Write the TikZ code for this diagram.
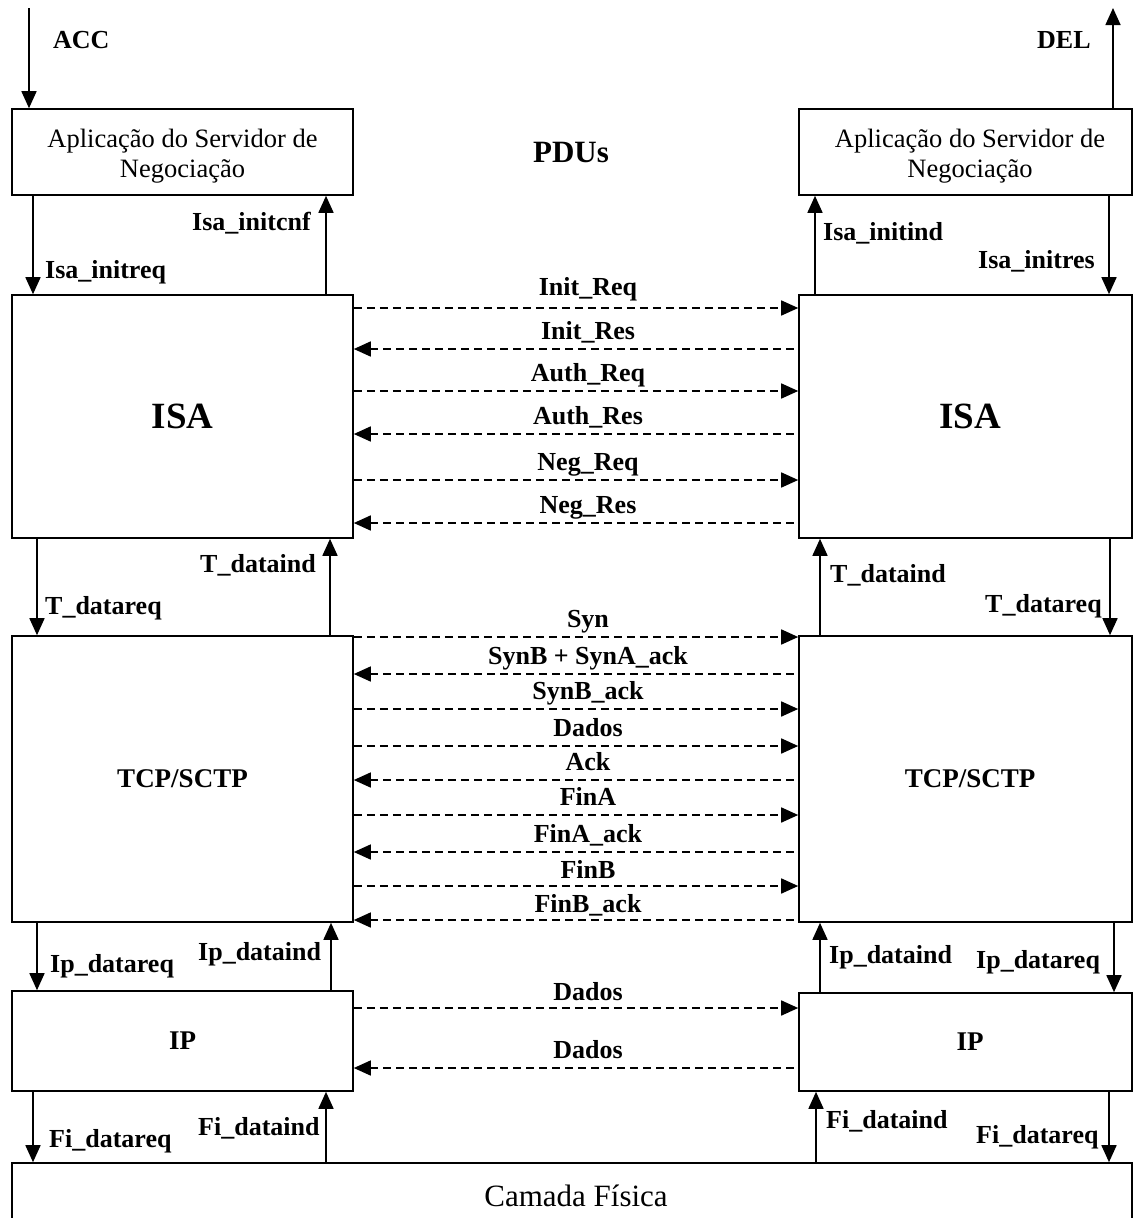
\documentclass[tikz,border=0pt]{standalone}
\usepackage{fontspec}
\setmainfont{Liberation Serif}
\usetikzlibrary{arrows.meta}

\begin{document}
\begin{tikzpicture}[x=1pt,y=-1pt,
  box/.style={draw, line width=1.6pt, inner sep=0pt},
  apptext/.style={font=\fontsize{26.5}{30}\selectfont, align=center, inner sep=0pt},
  bigtext/.style={font=\fontsize{37}{40}\selectfont\bfseries, inner sep=0pt},
  midtext/.style={font=\fontsize{27}{30}\selectfont\bfseries, inner sep=0pt},
  tip/.style={-{Triangle[length=17pt,width=15pt]}},
  arr/.style={line width=1.6pt, tip},
  toR/.style={line width=1.6pt, dash pattern=on 8pt off 5pt, -{Triangle[length=17pt,width=15pt]}},
  toL/.style={line width=1.6pt, dash pattern=on 8pt off 5pt, {Triangle[length=17pt,width=15pt]}-},
  lbl/.style={font=\fontsize{26}{30}\selectfont\bfseries, inner sep=0pt, anchor=base west},
  msg/.style={font=\fontsize{26}{30}\selectfont\bfseries, inner sep=0pt, pos=0.527, anchor=base, yshift=10pt}
]
\useasboundingbox (0,0) rectangle (1134,1218);

% protocol stacks, left and right
\node[box, minimum width=341pt, minimum height=86pt,
      label={[apptext, yshift=-4pt]center:Aplicação do Servidor de\\Negociação}] (appL) at (182.5,152) {};
\node[box, minimum width=333pt, minimum height=86pt,
      label={[apptext, xshift=4.5pt, yshift=-4pt]center:Aplicação do Servidor de\\Negociação}] (appR) at (965.5,152) {};
\node[box, minimum width=341pt, minimum height=243pt,
      label={[bigtext]center:ISA}] (isaL) at (182.5,416.5) {};
\node[box, minimum width=333pt, minimum height=243pt,
      label={[bigtext, xshift=4.5pt]center:ISA}] (isaR) at (965.5,416.5) {};
\node[box, minimum width=341pt, minimum height=286pt,
      label={[midtext]center:TCP/SCTP}] (tcpL) at (182.5,779) {};
\node[box, minimum width=333pt, minimum height=286pt,
      label={[midtext, xshift=4.5pt]center:TCP/SCTP}] (tcpR) at (965.5,779) {};
\node[box, minimum width=341pt, minimum height=100pt,
      label={[midtext]center:IP}] (ipL) at (182.5,1041) {};
\node[box, minimum width=333pt, minimum height=98pt,
      label={[midtext, xshift=4.5pt]center:IP}] (ipR) at (965.5,1042) {};
\node[box, minimum width=1120pt, minimum height=67pt,
      label={[font=\fontsize{31}{34}\selectfont, inner sep=0pt, xshift=4pt, yshift=1pt]center:Camada Física}] (phys) at (572,1196.5) {};

\node[font=\fontsize{31}{34}\selectfont\bfseries, inner sep=0pt] (pdus) at (571,152) {PDUs};

% service primitives, left side
\coordinate (accIn) at (29,8);
\draw[arr] (accIn) -- (appL.north -| 29,0);
\draw[arr] (appL.south -| 33,0) -- (isaL.north -| 33,0);
\draw[arr] (isaL.north -| 326,0) -- (appL.south -| 326,0);
\draw[arr] (isaL.south -| 37,0) -- (tcpL.north -| 37,0);
\draw[arr] (tcpL.north -| 330,0) -- (isaL.south -| 330,0);
\draw[arr] (tcpL.south -| 37,0) -- (ipL.north -| 37,0);
\draw[arr] (ipL.north -| 331,0) -- (tcpL.south -| 331,0);
\draw[arr] (ipL.south -| 33,0) -- (phys.north -| 33,0);
\draw[arr] (phys.north -| 326,0) -- (ipL.south -| 326,0);

\node[lbl] (accL) at (53,48) {ACC};
\node[lbl] at (192,230) {Isa\_initcnf};
\node[lbl] at (45,278) {Isa\_initreq};
\node[lbl] at (200,572) {T\_dataind};
\node[lbl] at (45,614) {T\_datareq};
\node[lbl] at (198,960) {Ip\_dataind};
\node[lbl] at (50,972) {Ip\_datareq};
\node[lbl] at (198,1135) {Fi\_dataind};
\node[lbl] at (49,1147) {Fi\_datareq};

% service primitives, right side
\coordinate (delOut) at (1113,8);
\draw[arr] (appR.north -| 1113,0) -- (delOut);
\draw[arr] (isaR.north -| 815,0) -- (appR.south -| 815,0);
\draw[arr] (appR.south -| 1109,0) -- (isaR.north -| 1109,0);
\draw[arr] (tcpR.north -| 820,0) -- (isaR.south -| 820,0);
\draw[arr] (isaR.south -| 1110,0) -- (tcpR.north -| 1110,0);
\draw[arr] (ipR.north -| 820,0) -- (tcpR.south -| 820,0);
\draw[arr] (tcpR.south -| 1114,0) -- (ipR.north -| 1114,0);
\draw[arr] (phys.north -| 816,0) -- (ipR.south -| 816,0);
\draw[arr] (ipR.south -| 1109,0) -- (phys.north -| 1109,0);

\node[lbl] (delL) at (1037,48) {DEL};
\node[lbl] at (823,240) {Isa\_initind};
\node[lbl] at (978,268) {Isa\_initres};
\node[lbl] at (830,582) {T\_dataind};
\node[lbl] at (985,612) {T\_datareq};
\node[lbl] at (829,963) {Ip\_dataind};
\node[lbl] at (976,968) {Ip\_datareq};
\node[lbl] at (826,1128) {Fi\_dataind};
\node[lbl] at (976,1143) {Fi\_datareq};

% ISA PDUs
\draw[toR] (isaL.east |- 0,308) -- (isaR.west |- 0,308) node[msg, yshift=3pt] {Init\_Req};
\draw[toL] (isaL.east |- 0,349) -- (isaR.west |- 0,349) node[msg] {Init\_Res};
\draw[toR] (isaL.east |- 0,391) -- (isaR.west |- 0,391) node[msg] {Auth\_Req};
\draw[toL] (isaL.east |- 0,434) -- (isaR.west |- 0,434) node[msg] {Auth\_Res};
\draw[toR] (isaL.east |- 0,480) -- (isaR.west |- 0,480) node[msg] {Neg\_Req};
\draw[toL] (isaL.east |- 0,523) -- (isaR.west |- 0,523) node[msg] {Neg\_Res};

% TCP/SCTP segments
\draw[toR] (tcpL.east |- 0,637) -- (tcpR.west |- 0,637) node[msg] {Syn};
\draw[toL] (tcpL.east |- 0,674) -- (tcpR.west |- 0,674) node[msg] {SynB + SynA\_ack};
\draw[toR] (tcpL.east |- 0,709) -- (tcpR.west |- 0,709) node[msg] {SynB\_ack};
\draw[toR] (tcpL.east |- 0,746) -- (tcpR.west |- 0,746) node[msg] {Dados};
\draw[toL] (tcpL.east |- 0,780) -- (tcpR.west |- 0,780) node[msg] {Ack};
\draw[toR] (tcpL.east |- 0,815) -- (tcpR.west |- 0,815) node[msg] {FinA};
\draw[toL] (tcpL.east |- 0,852) -- (tcpR.west |- 0,852) node[msg] {FinA\_ack};
\draw[toR] (tcpL.east |- 0,886) -- (tcpR.west |- 0,886) node[msg, yshift=-2pt] {FinB};
\draw[toL] (tcpL.east |- 0,920) -- (tcpR.west |- 0,920) node[msg, yshift=-2pt] {FinB\_ack};

% IP datagrams
\draw[toR] (ipL.east |- 0,1008) -- (ipR.west |- 0,1008) node[msg, yshift=-2pt] {Dados};
\draw[toL] (ipL.east |- 0,1068) -- (ipR.west |- 0,1068) node[msg] {Dados};
\end{tikzpicture}
\end{document}
